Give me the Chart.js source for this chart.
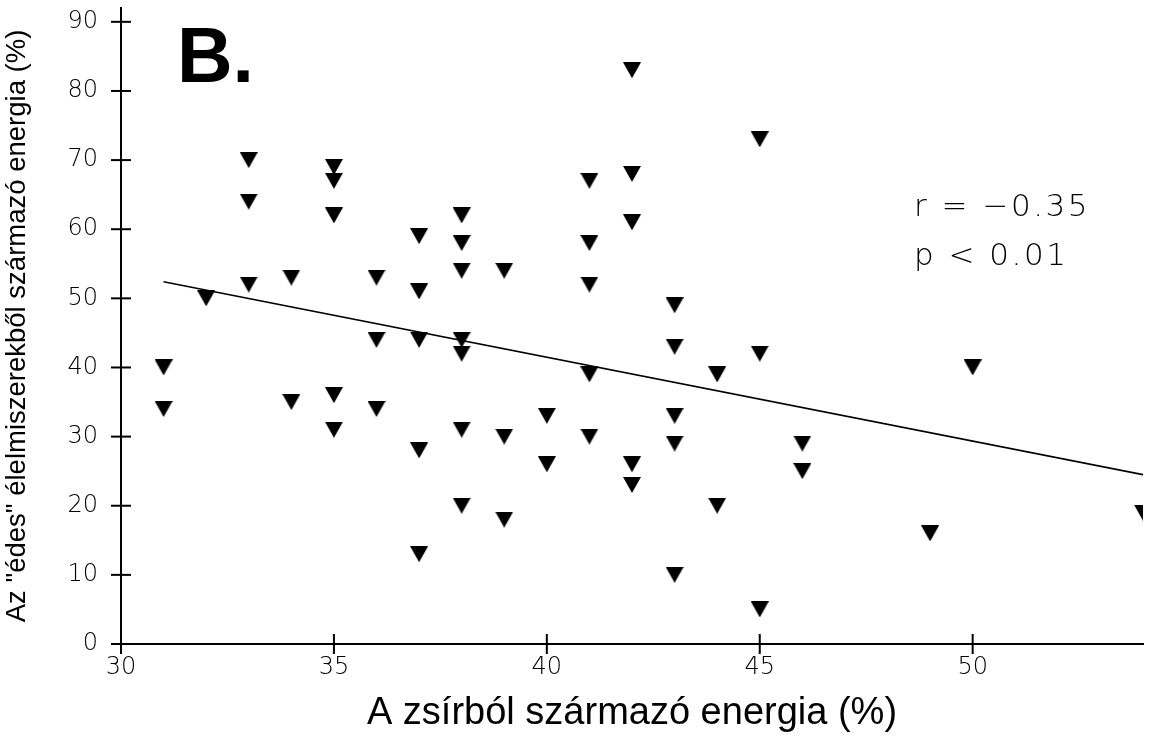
<!DOCTYPE html>
<html>
<head>
<meta charset="utf-8">
<script src="https://cdn.jsdelivr.net/npm/chart.js@4"></script>
<style>
  body { margin: 0; background: #fff; }
  #wrap { width: 1169px; height: 736px; }
</style>
</head>
<body>
<div id="wrap"><canvas id="chart"></canvas></div>
<script>
// zsír energia % (x) és "édes" élelmiszer energia % (y)
const fatX = [31, 31, 32, 33, 33, 33, 34, 34, 35, 35, 35, 35, 35, 36, 36, 36,
  37, 37, 37, 37, 37, 38, 38, 38, 38, 38, 38, 38, 39, 39, 39, 40, 40,
  41, 41, 41, 41, 41, 42, 42, 42, 42, 42, 43, 43, 43, 43, 43, 44, 44,
  45, 45, 45, 46, 46, 49, 50, 54];
const sweetY = [40, 34, 50, 70, 64, 52, 53, 35, 69, 67, 62, 36, 31, 53, 44, 34,
  59, 51, 44, 28, 13, 62, 58, 54, 44, 42, 31, 20, 54, 30, 18, 33, 26,
  67, 58, 52, 39, 30, 83, 68, 61, 26, 23, 49, 43, 33, 29, 10, 39, 20,
  73, 42, 5, 29, 25, 16, 40, 19];
// regressziós egyenes végpontjai
const fitX = [31, 54];
const fitY = [52.4, 24.5];
const yTicks = [0, 10, 20, 30, 40, 50, 60, 70, 80, 90];
const xTicks = [30, 35, 40, 45, 50];
const statText = ['r = \u22120.35', 'p < 0.01'];

// lefelé mutató háromszög jelölő
const marker = document.createElement('canvas');
marker.width = 18;
marker.height = 16;
const mctx = marker.getContext('2d');
mctx.fillStyle = '#000';
mctx.beginPath();
mctx.moveTo(0, 0);
mctx.lineTo(18, 0);
mctx.lineTo(9, 16);
mctx.closePath();
mctx.fill();

const points = fatX.map((x, i) => ({x: x, y: sweetY[i]}));
const fitLine = fitX.map((x, i) => ({x: x, y: fitY[i]}));

const tickFont = {family: 'DejaVu Sans', size: 24, weight: 200};

// keresztező osztásjelek + szövegek
const extras = {
    id: 'extras',
    afterDraw(chart) {
        const ctx = chart.ctx;
        const xs = chart.scales.x, ys = chart.scales.y;
        ctx.save();
        ctx.strokeStyle = '#000';
        ctx.lineWidth = 2;
        yTicks.forEach(v => {
            const py = ys.getPixelForValue(v);
            ctx.beginPath();
            ctx.moveTo(xs.left - 10, py);
            ctx.lineTo(xs.left + 10, py);
            ctx.stroke();
        });
        xTicks.forEach(v => {
            const px = xs.getPixelForValue(v);
            ctx.beginPath();
            ctx.moveTo(px, ys.bottom - 10);
            ctx.lineTo(px, ys.bottom + 10);
            ctx.stroke();
        });

        ctx.fillStyle = '#000';
        ctx.textBaseline = 'alphabetic';
        ctx.font = 'bold 77px "Liberation Sans", Arial, sans-serif';
        ctx.fillText('B.', 177, 82);

        ctx.font = '200 31px "DejaVu Sans", sans-serif';
        if ('letterSpacing' in ctx) ctx.letterSpacing = '2.5px';
        ctx.fillText(statText[0], 914, 216);
        ctx.fillText(statText[1], 914, 265);
        ctx.restore();
    }
};

const ctx = document.getElementById('chart').getContext('2d');
const myChart = new Chart(ctx, {
    type: 'scatter',
    data: {
        datasets: [{
            label: 'adatok',
            data: points,
            pointStyle: marker,
            pointRadius: 9,
            backgroundColor: '#000',
            borderColor: '#000'
        }, {
            label: 'regresszió',
            type: 'line',
            data: fitLine,
            showLine: true,
            pointRadius: 0,
            borderColor: '#000',
            borderWidth: 1.6,
            fill: false
        }]
    },
    options: {
        responsive: true,
        maintainAspectRatio: false,
        animation: false,
        layout: {
            autoPadding: false,
            padding: {top: 8, right: 26, left: 0, bottom: 0}
        },
        plugins: {
            legend: {display: false},
            tooltip: {enabled: false}
        },
        scales: {
            x: {
                type: 'linear',
                min: 30,
                max: 54,
                afterBuildTicks: (scale) => {
                    scale.ticks = xTicks.map(v => ({value: v}));
                },
                afterFit: (scale) => {
                    scale.height = 92;
                    scale.paddingLeft = 0;
                    scale.paddingRight = 0;
                },
                grid: {display: true, drawOnChartArea: false, drawTicks: false},
                border: {display: true, color: '#000', width: 2},
                ticks: {color: '#000', font: tickFont, padding: 9, maxRotation: 0},
                title: {
                    display: true,
                    text: 'A zsírból származó energia (%)',
                    color: '#000',
                    font: {family: '"Liberation Sans", Arial, sans-serif', size: 38},
                    padding: {top: 0, bottom: 0}
                }
            },
            y: {
                type: 'linear',
                min: 0,
                max: 92,
                afterBuildTicks: (scale) => {
                    scale.ticks = yTicks.map(v => ({value: v}));
                },
                afterFit: (scale) => {
                    scale.width = 121;
                    scale.paddingTop = 0;
                    scale.paddingBottom = 0;
                },
                grid: {display: true, drawOnChartArea: false, drawTicks: false},
                border: {display: true, color: '#000', width: 2},
                ticks: {color: '#000', font: tickFont, padding: 23},
                title: {
                    display: true,
                    text: 'Az "édes" élelmiszerekből származó energia (%)',
                    color: '#000',
                    font: {family: '"Liberation Sans", Arial, sans-serif', size: 27.5},
                    padding: {top: 1, bottom: 0}
                }
            }
        }
    },
    plugins: [extras]
});
</script>
</body>
</html>
